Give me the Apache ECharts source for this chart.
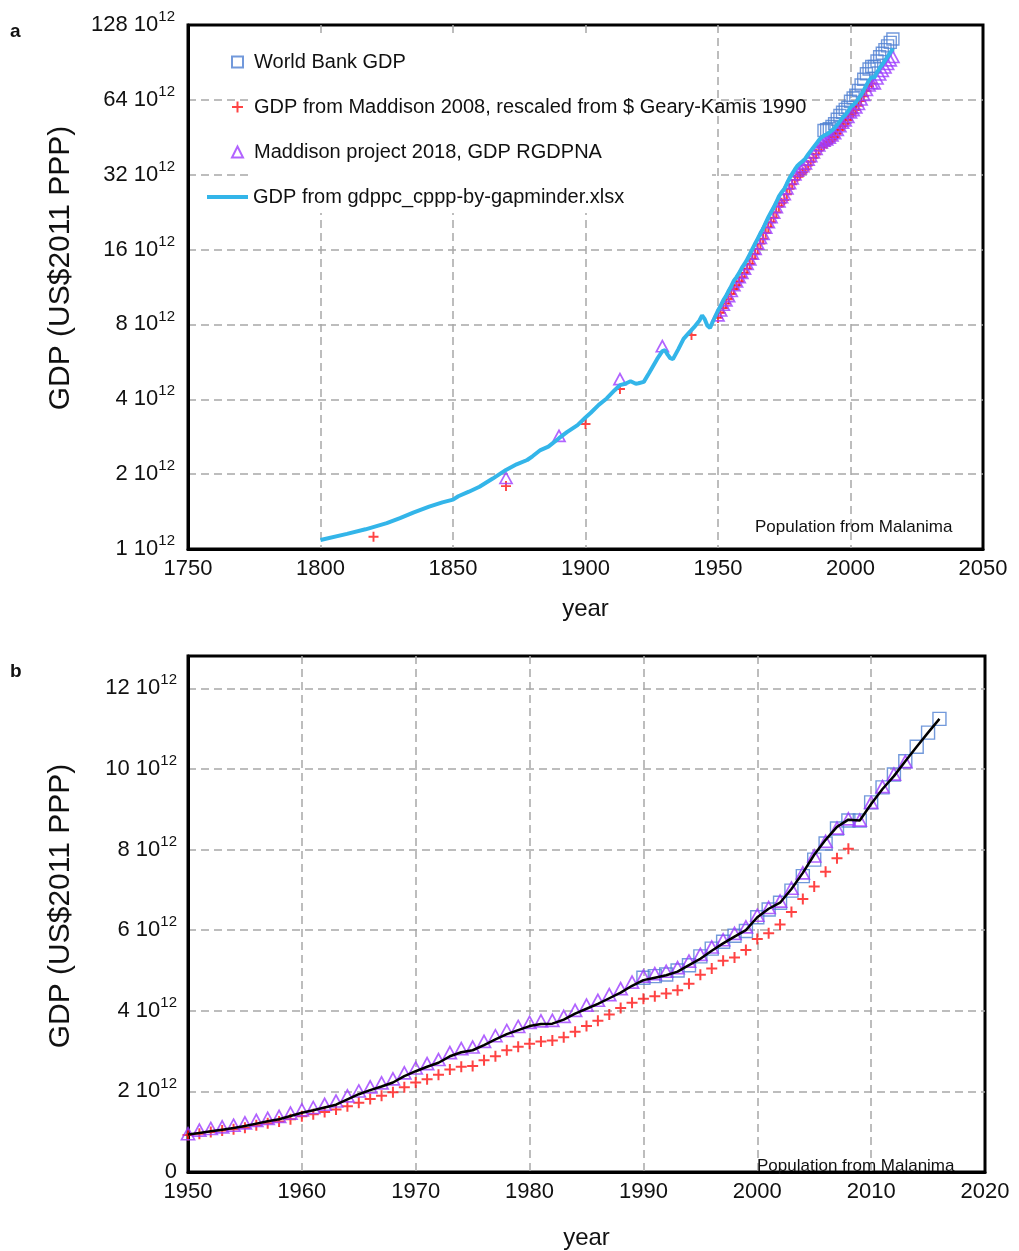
<!DOCTYPE html>
<html><head><meta charset="utf-8">
<script src="https://cdn.jsdelivr.net/npm/echarts@6/dist/echarts.min.js"></script>
<style>html,body{margin:0;padding:0;background:#fff}#c{width:1019px;height:1251px}</style>
</head><body><div id="c"></div>
<script>
// ---------- shared year list ----------
const annualYears = [1950,1951,1952,1953,1954,1955,1956,1957,1958,1959,1960,1961,1962,1963,1964,1965,1966,1967,1968,1969,
  1970,1971,1972,1973,1974,1975,1976,1977,1978,1979,1980,1981,1982,1983,1984,1985,1986,1987,1988,1989,
  1990,1991,1992,1993,1994,1995,1996,1997,1998,1999,2000,2001,2002,2003,2004,2005,2006,2007,2008,2009,
  2010,2011,2012,2013,2014,2015,2016];
const wbYears = annualYears.slice(40);

// ---------- panel a (GDP, 10^12 US$2011 PPP, log2 axis) ----------
const aGapEarlyYears = [1800,1810,1817,1825,1830,1835,1841,1846,1850,1852,1856,1860,1865,1870,1874,1878,1880,1883,1886,1890,
  1893,1897,1900,1902,1905,1908,1911,1913,1915,1917,1919,1920,1922,1924,1927,1929,1930,1931,1932,1933,
  1935,1937,1939,1941,1943,1944,1945,1946,1947,1948];
const aGapEarly = [1.087,1.15,1.20,1.27,1.33,1.40,1.48,1.54,1.58,1.63,1.70,1.78,1.92,2.08,2.19,2.28,2.36,2.50,2.58,2.79,
  2.95,3.15,3.38,3.53,3.80,4.03,4.35,4.56,4.62,4.73,4.62,4.64,4.70,5.10,5.80,6.25,6.30,6.05,5.85,5.80,
  6.35,7.00,7.40,7.80,8.30,8.70,8.40,7.90,7.75,8.20];
const aGapLate = [9.1,9.5,10.0,10.4,10.9,11.4,12.0,12.4,12.9,13.5,
  14.0,14.6,15.3,16.1,16.9,17.7,18.6,19.4,20.5,21.6,
  22.6,23.6,24.8,26.2,27.2,28.0,29.5,31.0,32.3,33.6,
  34.8,35.6,36.3,37.2,38.6,39.9,41.2,42.5,44.0,45.2,
  46.0,46.5,47.3,48.2,49.3,50.8,52.5,54.3,55.5,57.3,
  59.8,61.0,62.5,64.6,67.0,70.0,73.3,76.5,79.0,78.6,
  82.5,85.8,88.8,92.0,95.5,99.0,103.0];
const aMad2008EarlyYears = [1820,1870,1900,1913,1940];
const aMad2008Early = [1.12,1.79,3.18,4.40,7.25];
const aMad2008Late = [8.5,8.9,9.3,9.7,10.1,10.6,11.1,11.5,11.9,12.4,
  12.9,13.4,14.0,14.7,15.4,16.1,16.9,17.7,18.7,19.7,
  20.6,21.5,22.6,23.9,24.7,25.3,26.7,28.1,29.3,30.5,
  31.4,32.1,32.7,33.6,34.9,36.1,37.4,38.7,40.1,41.3,
  42.1,42.6,43.4,44.3,45.4,46.8,48.5,50.2,51.4,53.1,
  55.5,56.8,58.4,60.6,63.3,66.2,69.5,72.7,74.5];
const aMP2018EarlyYears = [1870,1890,1913,1929];
const aMP2018Early = [1.93,2.85,4.82,6.54];
const aMP2018Late = [8.7,9.1,9.6,10.0,10.4,10.9,11.5,11.9,12.4,12.9,
  13.4,14.0,14.6,15.4,16.1,16.9,17.8,18.5,19.6,20.6,
  21.6,22.5,23.7,25.0,26.0,26.7,28.2,29.6,30.9,32.1,
  33.2,33.9,34.6,35.5,36.8,38.0,39.3,40.6,42.0,43.1,
  43.9,44.4,45.1,46.0,47.0,48.4,50.1,51.8,52.9,54.6,
  57.0,58.2,59.6,61.6,64.2,67.0,70.1,73.1,74.8,74.5,
  78.0,80.9,83.6,86.4,89.2,92.2,95.2];
const aWB = [48.2,48.6,49.0,50.0,51.3,53.5,55.4,57.1,58.6,59.8,
  63.2,65.1,66.8,69.8,73.4,77.5,81.5,85.2,87.2,87.2,
  91.7,95.4,98.6,101.9,105.5,109.0,112.4];

// ---------- panel b (values as labelled, linear axis) ----------
const bGap = [0.93,0.97,1.01,1.05,1.09,1.14,1.20,1.26,1.31,1.39,
  1.47,1.53,1.60,1.67,1.80,1.93,2.03,2.12,2.22,2.38,
  2.50,2.61,2.71,2.87,2.97,3.02,3.15,3.29,3.42,3.52,
  3.62,3.67,3.68,3.78,3.93,4.05,4.17,4.31,4.45,4.62,
  4.76,4.82,4.88,4.97,5.13,5.29,5.49,5.67,5.84,6.00,
  6.32,6.53,6.68,7.02,7.42,7.87,8.24,8.56,8.74,8.72,
  9.13,9.50,9.82,10.19,10.55,10.90,11.24];
const bMP2018 = [0.95,1.04,1.08,1.12,1.16,1.22,1.28,1.33,1.38,1.46,
  1.54,1.60,1.68,1.76,1.89,2.01,2.11,2.21,2.31,2.46,
  2.58,2.69,2.79,2.96,3.06,3.10,3.24,3.38,3.51,3.61,
  3.71,3.75,3.76,3.86,4.01,4.14,4.26,4.40,4.55,4.71,
  4.86,4.92,4.98,5.07,5.23,5.40,5.58,5.76,5.92,6.08,
  6.37,6.56,6.72,7.04,7.42,7.84,8.20,8.53,8.76,8.73,
  9.17,9.56,9.87,10.18];
const bMad2008 = [0.92,0.95,0.99,1.03,1.06,1.10,1.16,1.21,1.25,1.31,
  1.38,1.43,1.49,1.55,1.63,1.72,1.81,1.89,1.98,2.10,
  2.22,2.30,2.41,2.54,2.61,2.63,2.77,2.87,3.02,3.11,
  3.18,3.24,3.26,3.34,3.48,3.62,3.75,3.91,4.07,4.20,
  4.30,4.36,4.43,4.51,4.67,4.89,5.05,5.24,5.32,5.51,
  5.78,5.92,6.14,6.45,6.77,7.08,7.45,7.78,8.02];
const bWB = [4.82,4.86,4.90,5.00,5.13,5.35,5.54,5.71,5.86,5.98,
  6.32,6.51,6.68,6.98,7.34,7.75,8.15,8.52,8.72,8.72,
  9.17,9.54,9.86,10.19,10.55,10.90,11.24];

// ---------- ticks & labels ----------
const aXTicks = [1750,1800,1850,1900,1950,2000,2050];
const aYTicks = [1,2,4,8,16,32,64,128];
const bXTicks = [1950,1960,1970,1980,1990,2000,2010,2020];
const bYTicks = [0,2,4,6,8,10,12];
const seriesNames = ['World Bank GDP','GDP from Maddison 2008, rescaled from $ Geary-Kamis 1990','Maddison project 2018, GDP RGDPNA','GDP from gdppc_cppp-by-gapminder.xlsx'];
const note = 'Population from Malanima';

const pair = (ys, vs) => vs.map((v, i) => [ys[i], v]);
const FONT = 'Liberation Sans, Arial, sans-serif';
const C_WB = '#4f7fd2', C_RED = '#ff1414', C_PUR = '#9d3cff', C_GAP = '#33b5e9';
const PLUS = 'path://M5,0L5,10M0,5L10,5';

const richLab = {
  n: {fontSize: 22, fontFamily: FONT, color: '#111', lineHeight: 22},
  s: {fontSize: 15, fontFamily: FONT, color: '#111', lineHeight: 15, padding: [0, 0, 16, 0]}
};
const supLabel = v => v === 0 ? '{n|0}' : `{n|${v} 10}{s|12}`;

const chart = echarts.init(document.getElementById('c'), null, {renderer: 'canvas'});
const splitLine = {show: true, showMinLine: false, showMaxLine: false, lineStyle: {color: '#a8a8a8', width: 1.5, type: [8, 5]}};
const gridBase = {show: true, borderColor: '#000', borderWidth: 3, backgroundColor: 'transparent'};
const legendText = {fontSize: 20, fontFamily: FONT, color: '#111', lineHeight: 24};

const option = {
  animation: false,
  backgroundColor: '#fff',
  grid: [
    Object.assign({left: 188, top: 25, width: 795, height: 524}, gridBase),
    Object.assign({left: 188, top: 656, width: 797, height: 525}, gridBase)
  ],
  xAxis: [
    {gridIndex: 0, type: 'value', min: aXTicks[0], max: aXTicks[aXTicks.length - 1], interval: 50,
     axisLine: {show: true, lineStyle: {color: '#000', width: 3}}, axisTick: {show: false},
     axisLabel: {fontSize: 22, fontFamily: FONT, color: '#111', margin: 9, formatter: v => aXTicks.includes(v) ? String(v) : ''},
     splitLine: splitLine,
     name: 'year', nameLocation: 'middle', nameGap: 48, nameTextStyle: {fontSize: 24, fontFamily: FONT, color: '#111'}},
    {gridIndex: 1, type: 'value', min: bXTicks[0], max: bXTicks[bXTicks.length - 1], interval: 10,
     axisLine: {show: true, lineStyle: {color: '#000', width: 3}}, axisTick: {show: false},
     axisLabel: {fontSize: 22, fontFamily: FONT, color: '#111', margin: 9, formatter: v => bXTicks.includes(v) ? String(v) : ''},
     splitLine: splitLine,
     name: 'year', nameLocation: 'middle', nameGap: 54, nameTextStyle: {fontSize: 24, fontFamily: FONT, color: '#111'}}
  ],
  yAxis: [
    {gridIndex: 0, type: 'log', logBase: 2, min: aYTicks[0], max: aYTicks[aYTicks.length - 1],
     axisLine: {show: true, lineStyle: {color: '#000', width: 3}}, axisTick: {show: false},
     axisLabel: {margin: 13, rich: richLab, formatter: v => aYTicks.includes(Math.round(v)) ? supLabel(Math.round(v)) : ''},
     splitLine: splitLine, minorSplitLine: {show: false},
     name: 'GDP (US$2011 PPP)', nameLocation: 'middle', nameGap: 112,
     nameTextStyle: {fontSize: 30, fontFamily: FONT, color: '#111', padding: [0, 0, 0, 38]}},
    {gridIndex: 1, type: 'value', min: 0, max: 12.8, interval: 2,
     axisLine: {show: true, lineStyle: {color: '#000', width: 3}}, axisTick: {show: false},
     axisLabel: {margin: 11, showMaxLabel: false, rich: richLab, formatter: v => bYTicks.includes(v) ? supLabel(v) : ''},
     splitLine: splitLine,
     name: 'GDP (US$2011 PPP)', nameLocation: 'middle', nameGap: 112,
     nameTextStyle: {fontSize: 30, fontFamily: FONT, color: '#111', padding: [0, 0, 0, 16]}}
  ],
  legend: [
    {left: 231, top: 50, padding: 0, orient: 'vertical', itemGap: 21, itemWidth: 11, itemHeight: 11,
     selectedMode: false, textStyle: Object.assign({padding: [0, 0, 0, 6]}, legendText),
     data: seriesNames.slice(0, 3)},
    {left: 207, top: 185, padding: 0, orient: 'vertical', itemWidth: 41, itemHeight: 4,
     selectedMode: false, textStyle: legendText,
     data: [{name: seriesNames[3], icon: 'rect'}]}
  ],
  graphic: [
    {type: 'rect', shape: {x: 250, y: 37, width: 462, height: 176}, style: {fill: '#fff'}, z: 1, silent: true},
    {type: 'text', x: 10, y: 22, style: {text: 'a', font: 'bold 19px ' + FONT, fill: '#111'}, z: 5},
    {type: 'text', x: 10, y: 662, style: {text: 'b', font: 'bold 19px ' + FONT, fill: '#111'}, z: 5},
    {type: 'text', x: 755, y: 519, style: {text: note, font: '17px ' + FONT, fill: '#111'}, z: 5},
    {type: 'text', x: 757, y: 1158, style: {text: note, font: '17px ' + FONT, fill: '#111'}, z: 5}
  ],
  series: [
    // panel a
    {name: seriesNames[0], type: 'scatter', xAxisIndex: 0, yAxisIndex: 0, symbol: 'rect', symbolSize: 12,
     itemStyle: {color: 'rgba(0,0,0,0)', borderColor: C_WB, borderWidth: 1.4}, data: pair(wbYears, aWB)},
    {name: seriesNames[1], type: 'scatter', xAxisIndex: 0, yAxisIndex: 0, symbol: PLUS, symbolSize: 10,
     itemStyle: {color: 'rgba(0,0,0,0)', borderColor: C_RED, borderWidth: 1.9},
     data: pair(aMad2008EarlyYears, aMad2008Early).concat(pair(annualYears, aMad2008Late))},
    {name: seriesNames[2], type: 'scatter', xAxisIndex: 0, yAxisIndex: 0, symbol: 'triangle', symbolSize: [12, 11],
     itemStyle: {color: 'rgba(0,0,0,0)', borderColor: C_PUR, borderWidth: 1.7},
     data: pair(aMP2018EarlyYears, aMP2018Early).concat(pair(annualYears, aMP2018Late))},
    {name: seriesNames[3], type: 'line', xAxisIndex: 0, yAxisIndex: 0, symbol: 'none', smooth: false,
     lineStyle: {color: C_GAP, width: 4}, itemStyle: {color: C_GAP},
     data: pair(aGapEarlyYears, aGapEarly).concat(pair(annualYears, aGapLate))},
    // panel b
    {name: 'b: ' + seriesNames[0], type: 'scatter', xAxisIndex: 1, yAxisIndex: 1, symbol: 'rect', symbolSize: 13,
     itemStyle: {color: 'rgba(0,0,0,0)', borderColor: C_WB, borderWidth: 1.4}, data: pair(wbYears, bWB)},
    {name: 'b: ' + seriesNames[1], type: 'scatter', xAxisIndex: 1, yAxisIndex: 1, symbol: PLUS, symbolSize: 11,
     itemStyle: {color: 'rgba(0,0,0,0)', borderColor: C_RED, borderWidth: 2}, data: pair(annualYears, bMad2008)},
    {name: 'b: ' + seriesNames[2], type: 'scatter', xAxisIndex: 1, yAxisIndex: 1, symbol: 'triangle', symbolSize: [13, 12],
     itemStyle: {color: 'rgba(0,0,0,0)', borderColor: C_PUR, borderWidth: 1.7}, data: pair(annualYears, bMP2018)},
    {name: 'b: ' + seriesNames[3], type: 'line', xAxisIndex: 1, yAxisIndex: 1, symbol: 'none', smooth: false,
     lineStyle: {color: '#000', width: 2.5}, itemStyle: {color: '#000'}, data: pair(annualYears, bGap)}
  ]
};
chart.setOption(option);
</script></body></html>
